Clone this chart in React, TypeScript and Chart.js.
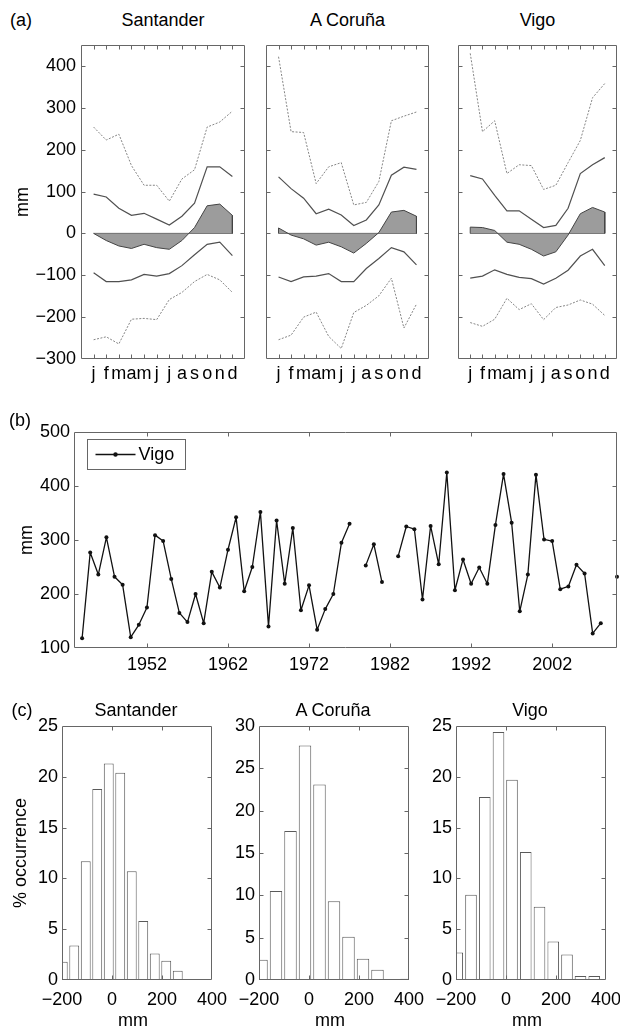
import React, { useEffect, useRef } from "react";
import { Chart, registerables } from "chart.js";
Chart.register(...registerables);

const FONT = "'Liberation Sans', Arial, Helvetica, sans-serif";
const AXIS = "#666666";

// ---------- panel (a): monthly anomaly percentiles ----------
const stations = ["Santander", "A Coruña", "Vigo"];
const months = [1, 2, 3, 4, 5, 6, 7, 8, 9, 10, 11, 12];
const monthLabels = ["j", "f", "m", "a", "m", "j", "j", "a", "s", "o", "n", "d"];
const aYTicks = [-300, -200, -100, 0, 100, 200, 300, 400];

const santanderP95 = [254, 223, 237, 162, 115, 115, 77, 130, 152, 254, 266, 292];
const santanderP75 = [94, 87, 60, 43, 48, 34, 20, 41, 72, 159, 159, 136];
const santanderMean = [0, -17, -30, -36, -26, -34, -38, -17, 14, 66, 70, 43];
const santanderP25 = [-94, -115, -115, -111, -98, -102, -96, -77, -51, -26, -21, -53];
const santanderP5 = [-254, -247, -264, -205, -203, -206, -158, -141, -115, -98, -111, -141];

const corunaP95 = [422, 243, 241, 119, 159, 169, 68, 74, 124, 269, 280, 290];
const corunaP75 = [135, 107, 84, 47, 58, 44, 19, 32, 68, 139, 158, 153];
const corunaMean = [13, -4, -13, -28, -21, -32, -47, -24, 2, 51, 55, 41];
const corunaP25 = [-104, -115, -104, -102, -96, -115, -115, -84, -60, -34, -44, -75];
const corunaP5 = [-254, -243, -200, -188, -246, -275, -189, -172, -149, -107, -226, -169];

const vigoP95 = [430, 243, 269, 143, 164, 162, 105, 115, 169, 222, 324, 358];
const vigoP75 = [138, 130, 91, 54, 54, 34, 14, 19, 60, 143, 164, 181];
const vigoMean = [15, 14, 7, -21, -26, -38, -54, -44, -4, 47, 62, 51];
const vigoP25 = [-107, -102, -87, -98, -105, -108, -121, -107, -88, -54, -38, -77];
const vigoP5 = [-213, -222, -205, -155, -182, -168, -206, -177, -171, -159, -169, -196];

// ---------- panel (b): annual series, Vigo ----------
const bYears = [
  1944, 1945, 1946, 1947, 1948, 1949, 1950, 1951, 1952, 1953, 1954, 1955, 1956, 1957, 1958, 1959,
  1960, 1961, 1962, 1963, 1964, 1965, 1966, 1967, 1968, 1969, 1970, 1971, 1972, 1973, 1974, 1975,
  1976, 1977, 1978, 1979, 1980, 1981, 1982, 1983, 1984, 1985, 1986, 1987, 1988, 1989, 1990, 1991,
  1992, 1993, 1994, 1995, 1996, 1997, 1998, 1999, 2000, 2001, 2002, 2003, 2004, 2005, 2006, 2007,
  2008, 2009, 2010,
];
const vigoAnnual = [
  118, 277, 236, 305, 232, 217, 120, 143, 175, 309, 298, 228, 165, 148, 200, 146,
  241, 212, 282, 342, 205, 250, 352, 140, 336, 219, 322, 170, 216, 134, 172, 200,
  295, 330, null, 253, 292, 222, null, 270, 325, 320, 190, 326, 255, 425, 207, 264,
  219, 249, 219, 328, 422, 332, 168, 236, 421, 301, 298, 209, 214, 254, 238, 127,
  146, null, 232,
];
const bXTicks = [1952, 1962, 1972, 1982, 1992, 2002];
const bYTicks = [100, 200, 300, 400, 500];

// ---------- panel (c): histograms ----------
const histXTicks = [-200, 0, 200, 400];
const santanderBins = [-197, -151, -105, -59, -13, 33, 79, 125, 171, 217, 263];
const santanderPct = [1.8, 3.4, 11.7, 18.8, 21.3, 20.4, 10.7, 5.8, 2.6, 1.9, 0.9];
const corunaBins = [-190, -132, -74, -16, 42, 100, 158, 216, 274, 332, 390];
const corunaPct = [2.4, 10.5, 17.6, 27.7, 23.1, 9.3, 5.1, 2.5, 1.2, 0, 0.15];
const vigoBins = [-195, -140, -85, -30, 24, 79, 134, 189, 244, 298, 353];
const vigoPct = [2.7, 8.4, 18.0, 24.4, 19.7, 12.6, 7.2, 3.8, 2.5, 0.4, 0.4];
const histYTicks25 = [0, 5, 10, 15, 20, 25];
const histYTicks30 = [0, 5, 10, 15, 20, 25, 30];

const minus = (v: number) => (v < 0 ? "\u2212" + Math.abs(v) : String(v));

const boxPlugin = {
  id: "matlabBox",
  afterDatasetsDraw(chart: any) {
    const { ctx, chartArea: a, scales } = chart;
    const L = Math.round(a.left) + 0.5;
    const T = Math.round(a.top) + 0.5;
    const R = Math.round(a.right) - 0.5;
    const B = Math.round(a.bottom) - 0.5;
    ctx.save();
    ctx.strokeStyle = AXIS;
    ctx.lineWidth = 1;
    ctx.setLineDash([]);
    ctx.beginPath();
    ctx.rect(L, T, R - L, B - T);
    const tl = 4;
    for (const t of scales.x.ticks) {
      const p = Math.round(scales.x.getPixelForValue(t.value)) + 0.5;
      if (p <= L + 1 || p >= R - 1) continue;
      ctx.moveTo(p, B);
      ctx.lineTo(p, B - tl);
      ctx.moveTo(p, T);
      ctx.lineTo(p, T + tl);
    }
    for (const t of scales.y.ticks) {
      const p = Math.round(scales.y.getPixelForValue(t.value)) + 0.5;
      if (p <= T + 1 || p >= B - 1) continue;
      ctx.moveTo(L, p);
      ctx.lineTo(L + tl, p);
      ctx.moveTo(R, p);
      ctx.lineTo(R - tl, p);
    }
    ctx.stroke();
    ctx.restore();
  },
};

const legendPlugin = {
  id: "vigoLegend",
  afterDraw(chart: any) {
    const { ctx, chartArea: a } = chart;
    const x = Math.round(a.left) + 13.5;
    const y = Math.round(a.top) + 7.5;
    const w = 98;
    const h = 30;
    ctx.save();
    ctx.fillStyle = "#fff";
    ctx.fillRect(x, y, w, h);
    ctx.strokeStyle = AXIS;
    ctx.lineWidth = 1;
    ctx.strokeRect(x, y, w, h);
    ctx.strokeStyle = "#111";
    ctx.lineWidth = 1.3;
    ctx.beginPath();
    ctx.moveTo(x + 8, y + h / 2);
    ctx.lineTo(x + 48, y + h / 2);
    ctx.stroke();
    ctx.fillStyle = "#111";
    ctx.beginPath();
    ctx.arc(x + 28, y + h / 2, 2.2, 0, Math.PI * 2);
    ctx.fill();
    ctx.fillStyle = "#000";
    ctx.font = `18px ${FONT}`;
    ctx.textBaseline = "middle";
    ctx.textAlign = "left";
    ctx.fillText("Vigo", x + 51, y + h / 2 + 1);
    ctx.restore();
  },
};

function linScale(min: number, max: number, tickVals: number[], labels: boolean, pad: number, cb: (v: number) => string) {
  return {
    type: "linear",
    min,
    max,
    offset: false,
    afterBuildTicks: (s: any) => {
      s.ticks = tickVals.map((v) => ({ value: v }));
    },
    grid: { display: false, drawTicks: false, offset: false },
    border: { display: false },
    ticks: {
      display: labels,
      autoSkip: false,
      maxRotation: 0,
      minRotation: 0,
      padding: pad,
      color: "#000",
      font: { family: FONT, size: 18 },
      callback: (v: any) => cb(Number(v)),
    },
  };
}

function panelA(p95: number[], p75: number[], mean: number[], p25: number[], p5: number[], showY: boolean) {
  const pts = (arr: number[]) => months.map((m, i) => ({ x: m, y: arr[i] }));
  const meanPoly = [{ x: months[0], y: 0 }, ...pts(mean), { x: months[months.length - 1], y: 0 }];
  const outer = { borderColor: "#858585", borderWidth: 1, borderDash: [2, 1.5], pointRadius: 0, fill: false };
  const inner = { borderColor: "#505050", borderWidth: 1.2, pointRadius: 0, fill: false };
  return {
    type: "line",
    data: {
      datasets: [
        { data: meanPoly, borderColor: "#444", borderWidth: 1, backgroundColor: "#9c9c9c", fill: "origin", pointRadius: 0 },
        { data: [{ x: months[0], y: 0 }, { x: months[months.length - 1], y: 0 }], borderColor: "#444", borderWidth: 1, pointRadius: 0, fill: false },
        { data: pts(p95), ...outer },
        { data: pts(p75), ...inner },
        { data: pts(p25), ...inner },
        { data: pts(p5), ...outer },
      ],
    },
    options: {
      scales: {
        x: linScale(0, 13, months, true, 4, (v) => monthLabels[v - 1] ?? ""),
        y: linScale(-300, 450, aYTicks, showY, 5, minus),
      },
    },
  };
}

function panelB() {
  return {
    type: "line",
    data: {
      datasets: [
        {
          data: bYears.map((yr, i) => ({ x: yr, y: vigoAnnual[i] })),
          borderColor: "#111",
          borderWidth: 1.3,
          borderJoinStyle: "round",
          pointRadius: 2,
          pointBackgroundColor: "#111",
          pointBorderWidth: 0,
          spanGaps: false,
          fill: false,
          clip: 6,
        },
      ],
    },
    options: {
      scales: {
        x: linScale(1943, 2010, bXTicks, true, 6, (v) => String(v)),
        y: linScale(100, 500, bYTicks, true, 4, (v) => String(v)),
      },
    },
    plugins: [legendPlugin],
  };
}

function hist(centers: number[], pct: number[], ymax: number, yTicks: number[]) {
  return {
    type: "bar",
    data: {
      datasets: [
        {
          data: centers.map((c, i) => ({ x: c, y: pct[i] })),
          backgroundColor: "#ffffff",
          borderColor: "#5a5a5a",
          borderWidth: 1,
          borderSkipped: false,
          barPercentage: 0.86,
          categoryPercentage: 1,
        },
      ],
    },
    options: {
      scales: {
        x: linScale(-200, 400, histXTicks, true, 9, minus),
        y: linScale(0, ymax, yTicks, true, 4, (v) => String(v)),
      },
    },
  };
}

type Rect = { l: number; t: number; r: number; b: number };

function ChartCanvas({ rect, yW, xH, padT, padR, build }: { rect: Rect; yW: number; xH: number; padT: number; padR: number; build: () => any }) {
  const ref = useRef<HTMLCanvasElement>(null);
  const w = yW + rect.r - rect.l + padR;
  const h = padT + rect.b - rect.t + xH;
  useEffect(() => {
    const cfg = build();
    const sx = cfg.options.scales.x;
    const sy = cfg.options.scales.y;
    sx.afterFit = (s: any) => {
      s.height = xH;
      s.paddingLeft = 0;
      s.paddingRight = 0;
    };
    sy.afterFit = (s: any) => {
      s.width = yW;
      s.paddingTop = 0;
      s.paddingBottom = 0;
    };
    cfg.options.responsive = false;
    cfg.options.maintainAspectRatio = false;
    cfg.options.animation = false;
    cfg.options.devicePixelRatio = 1;
    cfg.options.layout = { padding: { left: 0, top: padT, right: padR, bottom: 0 } };
    cfg.options.plugins = { legend: { display: false }, tooltip: { enabled: false }, title: { display: false } };
    cfg.plugins = [boxPlugin, ...(cfg.plugins || [])];
    const chart = new Chart(ref.current as HTMLCanvasElement, cfg);
    return () => chart.destroy();
  }, []);
  return (
    <canvas
      ref={ref}
      width={w}
      height={h}
      style={{ position: "absolute", left: rect.l - yW, top: rect.t - padT, width: w, height: h }}
    />
  );
}

function Txt({ x, y, children, rotate }: { x: number; y: number; children: any; rotate?: boolean }) {
  return (
    <div
      style={{
        position: "absolute",
        left: x,
        top: y,
        transform: `translate(-50%,-50%)${rotate ? " rotate(-90deg)" : ""}`,
        font: `18px ${FONT}`,
        color: "#000",
        whiteSpace: "nowrap",
        lineHeight: 1,
      }}
    >
      {children}
    </div>
  );
}

const aRects: Rect[] = [
  { l: 81, t: 45, r: 245, b: 359 },
  { l: 266, t: 45, r: 429, b: 359 },
  { l: 458, t: 45, r: 617, b: 359 },
];
const bRect: Rect = { l: 74, t: 432, r: 617, b: 648 };
const cRects: Rect[] = [
  { l: 62, t: 726, r: 212, b: 980 },
  { l: 259, t: 726, r: 409, b: 980 },
  { l: 456, t: 726, r: 606, b: 980 },
];

export default function App() {
  useEffect(() => {
    document.body.style.margin = "0";
  }, []);
  return (
    <div style={{ position: "absolute", left: 0, top: 0, width: 622, height: 1030, background: "#fff", overflow: "hidden" }}>
      <ChartCanvas rect={aRects[0]} yW={60} xH={32} padT={12} padR={8} build={() => panelA(santanderP95, santanderP75, santanderMean, santanderP25, santanderP5, true)} />
      <ChartCanvas rect={aRects[1]} yW={0} xH={32} padT={12} padR={8} build={() => panelA(corunaP95, corunaP75, corunaMean, corunaP25, corunaP5, false)} />
      <ChartCanvas rect={aRects[2]} yW={0} xH={32} padT={12} padR={4} build={() => panelA(vigoP95, vigoP75, vigoMean, vigoP25, vigoP5, false)} />
      <ChartCanvas rect={bRect} yW={74} xH={32} padT={12} padR={4} build={panelB} />
      <ChartCanvas rect={cRects[0]} yW={40} xH={34} padT={12} padR={24} build={() => hist(santanderBins, santanderPct, 25, histYTicks25)} />
      <ChartCanvas rect={cRects[1]} yW={40} xH={34} padT={12} padR={24} build={() => hist(corunaBins, corunaPct, 30, histYTicks30)} />
      <ChartCanvas rect={cRects[2]} yW={40} xH={34} padT={12} padR={14} build={() => hist(vigoBins, vigoPct, 25, histYTicks25)} />

      <Txt x={21} y={20}>(a)</Txt>
      {stations.map((s, i) => (
        <Txt key={"a" + s} x={(aRects[i].l + aRects[i].r) / 2} y={20}>{s}</Txt>
      ))}
      <Txt x={22} y={202} rotate>mm</Txt>

      <Txt x={20} y={420}>(b)</Txt>
      <Txt x={26} y={540} rotate>mm</Txt>

      <Txt x={22} y={710}>(c)</Txt>
      {stations.map((s, i) => (
        <Txt key={"c" + s} x={(cRects[i].l + cRects[i].r) / 2 - 1} y={710}>{s}</Txt>
      ))}
      <Txt x={20} y={853} rotate>% occurrence</Txt>
      {cRects.map((r, i) => (
        <Txt key={"m" + i} x={(r.l + r.r) / 2 - 4} y={1020}>mm</Txt>
      ))}
    </div>
  );
}
